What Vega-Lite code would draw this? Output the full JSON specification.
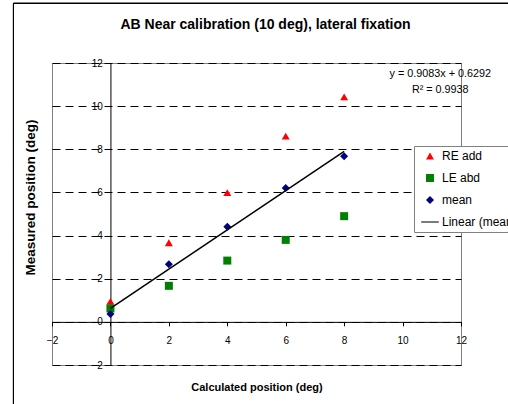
{
  "$schema": "https://vega.github.io/schema/vega-lite/v6.json",
  "width": 409,
  "height": 302,
  "autosize": {"type": "none"},
  "padding": {"left": 52, "top": 63, "right": 47, "bottom": 39},
  "background": "white",
  "title": {
    "text": "AB Near calibration (10 deg), lateral fixation",
    "font": "Liberation Sans",
    "fontSize": 14,
    "fontWeight": "bold",
    "color": "black",
    "anchor": "middle",
    "frame": "group",
    "baseline": "alphabetic",
    "offset": -40,
    "dx": 9
  },
  "data": {
    "values": [
      {"series": "RE add", "x": 0, "y": 0.95},
      {"series": "RE add", "x": 2, "y": 3.67},
      {"series": "RE add", "x": 4, "y": 5.99},
      {"series": "RE add", "x": 6, "y": 8.61},
      {"series": "RE add", "x": 8, "y": 10.43},
      {"series": "LE abd", "x": 0, "y": 0.62},
      {"series": "LE abd", "x": 2, "y": 1.67},
      {"series": "LE abd", "x": 4, "y": 2.84},
      {"series": "LE abd", "x": 6, "y": 3.8},
      {"series": "LE abd", "x": 8, "y": 4.9},
      {"series": "mean", "x": 0, "y": 0.36},
      {"series": "mean", "x": 2, "y": 2.67},
      {"series": "mean", "x": 4, "y": 4.41},
      {"series": "mean", "x": 6, "y": 6.21},
      {"series": "mean", "x": 8, "y": 7.68}
    ]
  },
  "layer": [
    {
      "mark": {"type": "rule", "color": "black", "strokeWidth": 1, "clip": false},
      "encoding": {
        "x": {"datum": -3.318, "type": "quantitative"},
        "y": {"datum": 14.76, "type": "quantitative"},
        "y2": {"datum": -6}
      }
    },
    {
      "mark": {"type": "rule", "color": "black", "strokeWidth": 1, "clip": false},
      "encoding": {
        "x": {"datum": -3.318, "type": "quantitative"},
        "x2": {"datum": 17},
        "y": {"datum": 14.76, "type": "quantitative"}
      }
    },
    {
      "mark": {"type": "point", "filled": true, "size": 64, "opacity": 1, "strokeWidth": 0},
      "encoding": {
        "x": {
          "field": "x",
          "type": "quantitative",
          "scale": {"domain": [-2, 12], "nice": false, "zero": false},
          "axis": {
            "orient": "bottom",
            "offset": -43.14,
            "grid": false,
            "values": [-2, 0, 2, 4, 6, 8, 10, 12],
            "domainColor": "black",
            "tickColor": "black",
            "tickSize": 4,
            "labelFont": "Liberation Sans",
            "labelFontSize": 10,
            "labelColor": "black",
            "labelPadding": 10,
            "labelFlush": false,
            "labelOverlap": false,
            "title": "Calculated position (deg)",
            "titleFont": "Liberation Sans",
            "titleFontSize": 11,
            "titleFontWeight": "bold",
            "titleColor": "black",
            "titleY": 66,
            "titleBaseline": "middle"
          }
        },
        "y": {
          "field": "y",
          "type": "quantitative",
          "scale": {"domain": [-2, 12], "nice": false, "zero": false},
          "axis": {
            "orient": "left",
            "offset": -58.43,
            "grid": true,
            "gridColor": "black",
            "gridDash": [8, 5],
            "gridWidth": 1,
            "values": [-2, 0, 2, 4, 6, 8, 10, 12],
            "domainColor": "black",
            "tickColor": "black",
            "tickSize": 4,
            "labelFont": "Liberation Sans",
            "labelFontSize": 10,
            "labelColor": "black",
            "labelPadding": 4,
            "labelOverlap": false,
            "labelFlush": false,
            "title": "Measured position (deg)",
            "titleFont": "Liberation Sans",
            "titleFontSize": 13.5,
            "titleFontWeight": "bold",
            "titleColor": "black",
            "titleX": -80,
            "titleY": 134,
            "titleAngle": 270,
            "titleAlign": "center",
            "titleBaseline": "middle"
          }
        },
        "color": {
          "field": "series",
          "type": "nominal",
          "scale": {
            "domain": ["RE add", "LE abd", "mean", "Linear (mean)"],
            "range": ["#ff0000", "#008000", "#000080", "#000000"]
          },
          "legend": {
            "title": null,
            "orient": "none",
            "legendX": 362,
            "legendY": 83,
            "labelFont": "Liberation Sans",
            "labelFontSize": 12,
            "labelColor": "black",
            "strokeColor": "#808080",
            "fillColor": "white",
            "padding": 4,
            "symbolSize": 64,
            "symbolOffset": 6,
            "rowPadding": 10,
            "labelOffset": 6,
            "symbolStrokeWidth": 0,
            "symbolOpacity": 1
          }
        },
        "shape": {
          "field": "series",
          "type": "nominal",
          "scale": {
            "domain": ["RE add", "LE abd", "mean", "Linear (mean)"],
            "range": ["triangle-up", "square", "diamond", "M-2.2,-0.13H2.2V0.13H-2.2Z"]
          }
        }
      }
    },
    {
      "transform": [
        {"filter": "datum.series === 'mean'"},
        {"regression": "y", "on": "x", "extent": [0, 8]}
      ],
      "mark": {"type": "line", "color": "black", "strokeWidth": 1.5},
      "encoding": {
        "x": {"field": "x", "type": "quantitative"},
        "y": {"field": "y", "type": "quantitative"}
      }
    },
    {
      "data": {"values": [{"label": ["y = 0.9083x + 0.6292", "R² = 0.9938"]}]},
      "mark": {
        "type": "text",
        "font": "Liberation Sans",
        "fontSize": 10.8,
        "align": "center",
        "baseline": "top",
        "lineHeight": 16,
        "color": "black",
        "clip": false
      },
      "encoding": {
        "text": {"field": "label", "type": "nominal"},
        "x": {"datum": 11.29, "type": "quantitative"},
        "y": {"datum": 11.77, "type": "quantitative"}
      }
    }
  ],
  "config": {
    "view": {"stroke": "#808080", "strokeWidth": 1}
  }
}
